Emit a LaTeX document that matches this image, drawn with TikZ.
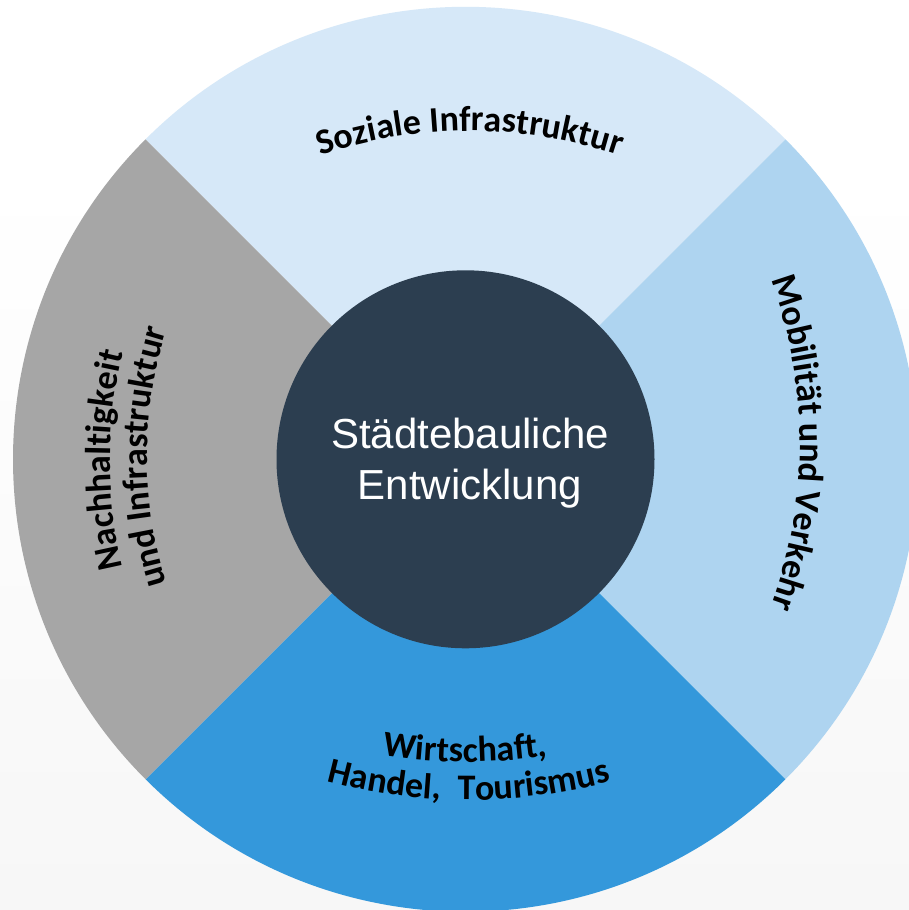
\documentclass[tikz,border=0pt]{standalone}
\usepackage{fontspec}
\setmainfont{Carlito}
\newfontfamily\arialf{Liberation Sans}
\usetikzlibrary{decorations.text}
\definecolor{topc}{HTML}{D6E8F8}
\definecolor{rightc}{HTML}{AED4F0}
\definecolor{botc}{HTML}{3498DB}
\definecolor{leftc}{HTML}{A6A6A6}
\definecolor{corec}{HTML}{2C3E50}
\definecolor{bgbot}{HTML}{F7F7F7}
\newcommand\sgLbl{\fontsize{27}{32}\selectfont\bfseries}
\begin{document}
\begin{tikzpicture}[x=0.75pt,y=0.75pt,
  arclabel/.style={decorate, decoration={text along path, text align=center, text={|\sgLbl|#1}}},
  corecircle/.style={circle, fill=corec, inner sep=0pt, minimum size=283.5pt},
  coretext/.style={align=center, text=white, inner sep=0pt, font=\arialf\fontsize{31.5}{38.2}\selectfont}
]
\useasboundingbox (0,0) rectangle (909,910);
\clip (0,0) rectangle (909,910);
\fill[white] (0,0) rectangle (909,910);
\shade[top color=white, bottom color=bgbot] (0,0) rectangle (909,740);

\coordinate (c) at (465.5,450.7);
\fill[topc]   (c) -- ++(45:452.5)  arc[start angle=45,  end angle=135, radius=452.5] -- cycle;
\fill[rightc] (c) -- ++(-45:452.5) arc[start angle=-45, end angle=45,  radius=452.5] -- cycle;
\fill[botc]   (c) -- ++(225:452.5) arc[start angle=225, end angle=315, radius=452.5] -- cycle;
\fill[leftc]  (c) -- ++(135:452.5) arc[start angle=135, end angle=225, radius=452.5] -- cycle;

\node[corecircle] (core) at (c) {};
\node[coretext] (coretxt) at (470,447.3) {Städtebauliche\\Entwicklung};

% curved labels
\coordinate (ta) at (470,309);
\path[arclabel={Soziale Infrastruktur}] ([shift={(114:470)}]ta) arc[start angle=114, end angle=66, radius=470];

\coordinate (ra) at (326,467);
\path[arclabel={Mobilität und Verkehr}] ([shift={(27:474)}]ra) arc[start angle=27, end angle=-27, radius=474];

\coordinate (ba) at (465,698);
\path[arclabel={Wirtschaft,}] ([shift={(-115:550)}]ba) arc[start angle=-115, end angle=-65, radius=550];
\coordinate (bb) at (469,660);
\path[arclabel={Handel,{\hskip.25em} Tourismus}] ([shift={(-117:550)}]bb) arc[start angle=-117, end angle=-63, radius=550];

\coordinate (la) at (560,450);
\path[arclabel={Nachhaltigkeit}] ([shift={(204:450)}]la) arc[start angle=204, end angle=156, radius=450];
\coordinate (lb) at (567,453);
\path[arclabel={und Infrastruktur}] ([shift={(206:420)}]lb) arc[start angle=206, end angle=154, radius=420];
\end{tikzpicture}
\end{document}
